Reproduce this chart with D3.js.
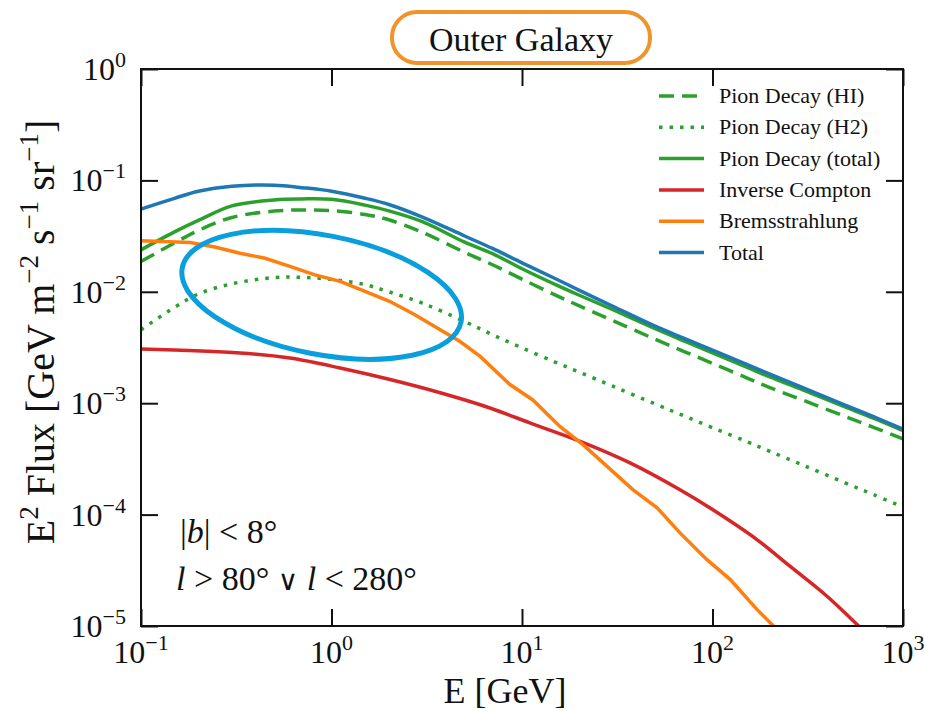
<!DOCTYPE html>
<html>
<head>
<meta charset="utf-8">
<script src="https://cdn.jsdelivr.net/npm/d3@7"></script>
<style>
  body { margin: 0; background: #fff; }
  text { font-family: "Liberation Serif", "Times New Roman", serif; fill: #111; }
</style>
</head>
<body>
<svg id="chart" width="925" height="711"></svg>
<script>
// energies (GeV) for the pion / total curves
var energy = [0.1, 0.15, 0.2, 0.3, 0.5, 0.7, 1, 1.5, 2, 3, 5, 7, 10, 15, 20, 30, 50, 70, 100, 150, 200, 300, 500, 700, 1000];
var pionHI = [0.0187, 0.0275, 0.0355, 0.0465, 0.0530, 0.0543, 0.0535, 0.0495, 0.0443, 0.0342, 0.0226, 0.0175, 0.0130, 0.00933, 0.00748, 0.00552, 0.00375, 0.00294, 0.00228, 0.00170, 0.00138, 0.00106, 0.000757, 0.000607, 0.000478];
var pionH2 = [0.00456, 0.00726, 0.00955, 0.0118, 0.0134, 0.0135, 0.0129, 0.0116, 0.0100, 0.00791, 0.00540, 0.00412, 0.00314, 0.00233, 0.00190, 0.00142, 0.000984, 0.000776, 0.000603, 0.000455, 0.000370, 0.000277, 0.000192, 0.000151, 0.000117];
var pionTotal = [0.0238, 0.0345, 0.0437, 0.0590, 0.0668, 0.0682, 0.0676, 0.0600, 0.0533, 0.0426, 0.0279, 0.0220, 0.0161, 0.0116, 0.00931, 0.00690, 0.00468, 0.00365, 0.00283, 0.00212, 0.00172, 0.00131, 0.000920, 0.000733, 0.000566];
var totalFlux = [0.0552, 0.0690, 0.0800, 0.0887, 0.0906, 0.0861, 0.0800, 0.0692, 0.0608, 0.0469, 0.0317, 0.0245, 0.0182, 0.0131, 0.0103, 0.00741, 0.00491, 0.00385, 0.00299, 0.00224, 0.00182, 0.00137, 0.000957, 0.000757, 0.000586];

// bremsstrahlung is noisy, own energy grid
var bremsE = [0.1, 0.181, 0.244, 0.331, 0.448, 0.605, 0.819, 1.11, 1.50, 2.03, 2.74, 3.72, 4.73, 6.03, 8.65, 11.4, 15.8, 20.9, 38.3, 51.2, 67.5, 93.5, 124, 171, 208, 260];
var bremsF = [0.0288, 0.0277, 0.0252, 0.0222, 0.0200, 0.0169, 0.0142, 0.0124, 0.0101, 0.00818, 0.00622, 0.00456, 0.00358, 0.00263, 0.00147, 0.00107, 0.000619, 0.000425, 0.000167, 0.000115, 6.85e-5, 3.94e-5, 2.61e-5, 1.41e-5, 1.01e-5, 6.0e-6];

// inverse compton
var icE = [0.1, 0.331, 0.605, 1.11, 2.03, 3.72, 6.79, 11.0, 20.2, 36.9, 67.5, 100, 171, 255, 399, 574, 757];
var icF = [0.00306, 0.00282, 0.00254, 0.00207, 0.00163, 0.00124, 0.000906, 0.000665, 0.000454, 0.000291, 0.000167, 0.000111, 5.97e-5, 3.44e-5, 1.85e-5, 1.03e-5, 6.4e-6];

var xTicks = [0.1, 1, 10, 100, 1000];
var xExp = ["\u22121", "0", "1", "2", "3"];
var yTicks = [1, 0.1, 0.01, 0.001, 0.0001, 0.00001];
var yExp = ["0", "\u22121", "\u22122", "\u22123", "\u22124", "\u22125"];

var legendLabels = ["Pion Decay (HI)", "Pion Decay (H2)", "Pion Decay (total)", "Inverse Compton", "Bremsstrahlung", "Total"];

var svg = d3.select("#chart");
// plot box (pixels)
var pL = 141, pR = 903, pT = 69, pB = 626;

var x = d3.scaleLog().domain([0.1, 1000]).range([pL, pR]);
var y = d3.scaleLog().domain([1e-5, 1]).range([pB, pT]);

svg.append("defs").append("clipPath").attr("id", "plotclip")
  .append("rect").attr("x", pL).attr("y", pT).attr("width", pR - pL).attr("height", pB - pT);

// ticks, inward on all four sides
var tl = 17;
svg.append("g").attr("transform", "translate(0," + pB + ")")
  .call(d3.axisBottom(x).tickValues(xTicks).tickSize(-tl).tickFormat(""));
svg.append("g").attr("transform", "translate(0," + pT + ")")
  .call(d3.axisTop(x).tickValues(xTicks).tickSize(-tl).tickFormat(""));
svg.append("g").attr("transform", "translate(" + pL + ",0)")
  .call(d3.axisLeft(y).tickValues(yTicks).tickSize(-tl).tickFormat(""));
svg.append("g").attr("transform", "translate(" + pR + ",0)")
  .call(d3.axisRight(y).tickValues(yTicks).tickSize(-tl).tickFormat(""));
svg.selectAll(".domain").remove();
svg.selectAll(".tick line").attr("stroke", "#111").attr("stroke-width", 2);

function powLabel(g, base, exp, xx, yy, anchor) {
  var t = g.append("text").attr("x", xx).attr("y", yy).attr("text-anchor", anchor).style("font-size", "32px");
  t.append("tspan").text(base);
  t.append("tspan").attr("dy", -13).style("font-size", "22px").text(exp);
  return t;
}

var labels = svg.append("g");
xTicks.forEach(function(v, i) {
  powLabel(labels, "10", xExp[i], x(v), 663, "middle");
});
yTicks.forEach(function(v, i) {
  powLabel(labels, "10", yExp[i], 126, y(v) + 11, "end");
});

// curves
var plot = svg.append("g").attr("clip-path", "url(#plotclip)");
var smooth = d3.line().x(function(d) { return x(d[0]); }).y(function(d) { return y(d[1]); }).curve(d3.curveCatmullRom.alpha(0.5));
var jagged = d3.line().x(function(d) { return x(d[0]); }).y(function(d) { return y(d[1]); });

var green = "#2ca02c", red = "#d62728", orange = "#ff7f0e", blue = "#1f77b4";
var series = [
  { xs: energy, ys: pionHI, color: green, dash: "15,8", gen: smooth },
  { xs: energy, ys: pionH2, color: green, dash: "3.5,7", gen: smooth },
  { xs: energy, ys: pionTotal, color: green, dash: null, gen: smooth },
  { xs: icE, ys: icF, color: red, dash: null, gen: smooth },
  { xs: bremsE, ys: bremsF, color: orange, dash: null, gen: jagged },
  { xs: energy, ys: totalFlux, color: blue, dash: null, gen: smooth }
];

series.forEach(function(s) {
  var pts = s.xs.map(function(e, i) { return [e, s.ys[i]]; });
  plot.append("path").attr("d", s.gen(pts))
    .attr("fill", "none").attr("stroke", s.color).attr("stroke-width", 3.5)
    .attr("stroke-dasharray", s.dash);
});

// frame
svg.append("rect").attr("x", pL).attr("y", pT).attr("width", pR - pL).attr("height", pB - pT)
  .attr("fill", "none").attr("stroke", "#111").attr("stroke-width", 2);

// legend
var lg = svg.append("g");
series.forEach(function(s, i) {
  var yy = 96 + i * 31.3;
  lg.append("line").attr("x1", 659).attr("x2", 704).attr("y1", yy).attr("y2", yy)
    .attr("stroke", s.color).attr("stroke-width", 3.5).attr("stroke-dasharray", s.dash);
  lg.append("text").attr("x", 719).attr("y", yy + 7).style("font-size", "22px").text(legendLabels[i]);
});

// highlighted region
svg.append("ellipse")
  .attr("transform", "translate(" + x(0.888) + "," + y(0.0094) + ") rotate(11)")
  .attr("rx", 142).attr("ry", 59.5)
  .attr("fill", "none").attr("stroke", "#0a9fdc").attr("stroke-width", 5);

// region text
var t1 = svg.append("text").attr("x", 180).attr("y", 543).style("font-size", "34px");
t1.append("tspan").text("|");
t1.append("tspan").style("font-style", "italic").text("b");
t1.append("tspan").text("| < 8\u00b0");
var t2 = svg.append("text").attr("x", 176).attr("y", 590).style("font-size", "34px");
t2.append("tspan").style("font-style", "italic").text("l");
t2.append("tspan").text(" > 80\u00b0 ");
t2.append("tspan").style("font-family", "DejaVu Serif").style("font-size", "28px").text("\u2228");
t2.append("tspan").text(" ");
t2.append("tspan").style("font-style", "italic").text("l");
t2.append("tspan").text(" < 280\u00b0");

// axis labels
svg.append("text").attr("x", 505).attr("y", 703).attr("text-anchor", "middle")
  .style("font-size", "36px").text("E [GeV]");

var yl = svg.append("text").attr("transform", "translate(54,332) rotate(-90)")
  .attr("text-anchor", "middle").style("font-size", "40px");
yl.append("tspan").text("E");
yl.append("tspan").attr("dy", -16).style("font-size", "27px").text("2");
yl.append("tspan").attr("dy", 16).text(" Flux [GeV m");
yl.append("tspan").attr("dy", -16).style("font-size", "27px").text("\u22122");
yl.append("tspan").attr("dy", 16).text(" s");
yl.append("tspan").attr("dy", -16).style("font-size", "27px").text("\u22121");
yl.append("tspan").attr("dy", 16).text(" sr");
yl.append("tspan").attr("dy", -16).style("font-size", "27px").text("\u22121");
yl.append("tspan").attr("dy", 16).text("]");

// title badge
svg.append("rect").attr("x", 392).attr("y", 12).attr("width", 258).attr("height", 51)
  .attr("rx", 25).attr("fill", "#fff").attr("stroke", "#f0932b").attr("stroke-width", 4);
svg.append("text").attr("x", 521).attr("y", 51).attr("text-anchor", "middle")
  .style("font-size", "34px").text("Outer Galaxy");
</script>
</body>
</html>
